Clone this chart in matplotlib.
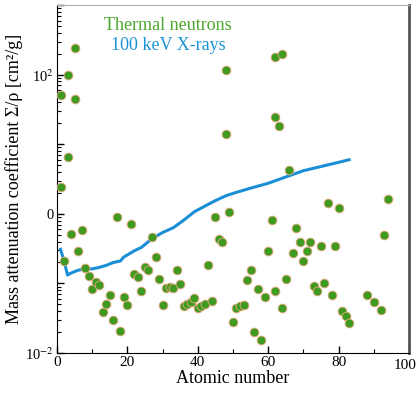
import matplotlib
matplotlib.use("Agg")
import matplotlib.pyplot as plt
from matplotlib.ticker import LogLocator, NullFormatter, FixedLocator, MultipleLocator

plt.rcParams['font.family'] = ['Liberation Serif', 'DejaVu Serif']
plt.rcParams['mathtext.fontset'] = 'stix'

# thermal neutrons: atomic number vs mass attenuation coefficient
neutron_z = [1, 1, 2, 3, 3, 4, 5, 5, 6, 7, 8, 9, 10, 11, 12, 13, 14, 15, 16, 17,
             18, 19, 20, 21, 22, 23, 24, 25, 26, 27, 28, 29, 30, 31, 32, 33, 34,
             35, 36, 37, 38, 39, 40, 41, 42, 43, 44, 45, 46, 47, 48, 48, 49, 50,
             51, 52, 53, 54, 55, 56, 57, 58, 59, 60, 61, 62, 62, 62, 63, 64, 64,
             65, 66, 67, 68, 69, 70, 71, 72, 73, 74, 75, 76, 77, 78, 79, 80, 81,
             82, 83, 88, 90, 92, 93, 94]
neutron_val = [51, 2.4, 0.21, 98, 6.6, 0.52, 240, 45, 0.29, 0.59, 0.166, 0.129,
               0.083, 0.105, 0.095, 0.039, 0.051, 0.068, 0.030, 0.89, 0.021,
               0.063, 0.049, 0.71, 0.135, 0.123, 0.078, 0.174, 0.155, 0.46, 0.24,
               0.115, 0.049, 0.085, 0.089, 0.085, 0.155, 0.098, 0.048, 0.051,
               0.055, 0.062, 0.045, 0.048, 0.051, 0.186, 0.056, 0.89, 0.44, 0.39,
               115, 14, 1.05, 0.028, 0.044, 0.047, 0.049, 0.112, 0.155, 0.020,
               0.083, 0.0155, 0.063, 0.29, 0.81, 178, 25, 0.078, 18.6, 200, 0.044,
               0.117, 4.2, 0.275, 0.62, 0.39, 0.21, 0.29, 0.40, 0.091, 0.078,
               0.34, 0.10, 1.41, 0.069, 0.34, 1.23, 0.040, 0.034, 0.027, 0.068,
               0.055, 0.042, 0.50, 1.62]

# 100 keV X-rays
xray_z = [1, 2, 3, 4, 6, 8, 10, 12, 14, 16, 18, 19, 20, 22, 24, 26, 28, 30, 33,
          36, 39, 42, 45, 48, 51, 55, 60, 65, 70, 75, 80, 83]
xray_val = [0.31, 0.21, 0.132, 0.141, 0.155, 0.162, 0.162, 0.17, 0.182, 0.20,
            0.21, 0.24, 0.257, 0.295, 0.33, 0.40, 0.47, 0.54, 0.63, 0.81, 1.07,
            1.29, 1.55, 1.82, 2.04, 2.34, 2.75, 3.39, 4.17, 4.79, 5.5, 6.0]

x_ticks = [0, 20, 40, 60, 80, 100]

fig = plt.figure(figsize=(4.16, 3.94), dpi=100)
ax = fig.add_axes([0.137, 0.104, 0.846, 0.883])

ax.plot(xray_z, xray_val, color='#1b8fd6', lw=2.2, zorder=2)
ax.scatter(neutron_z, neutron_val, s=40, color='#3f9a22', edgecolors='#e8a882',
           linewidths=0.6, zorder=3)

ax.set_yscale('log')
ax.set_xlim(0, 100)
ax.set_ylim(1e-2, 1e3)

ax.set_xticks(x_ticks)
# last label drawn by hand, a little left, so it is not cut by the edge
ax.set_xticklabels([str(t) for t in x_ticks[:-1]] + [''])
ax.annotate(str(x_ticks[-1]), xy=(x_ticks[-1], 0), xycoords=('data', 'axes fraction'),
            xytext=(-3, -4), textcoords='offset points', ha='center', va='top',
            fontsize=11)
ax.xaxis.set_minor_locator(MultipleLocator(10))
ax.yaxis.set_major_locator(FixedLocator([1e-2, 1e-1, 1, 10, 100, 1000]))
ax.set_yticklabels([r'10$^{-2}$', '', '0', '', r'10$^{2}$', ''])
ax.yaxis.set_minor_locator(LogLocator(base=10, subs=range(2, 10)))
ax.yaxis.set_minor_formatter(NullFormatter())

ax.tick_params(which='both', direction='in', top=False, right=False,
               labelsize=11, color='black')
ax.tick_params(which='major', length=5, width=1)
ax.tick_params(which='minor', length=3, width=0.8)
ax.tick_params(axis='x', pad=2)
ax.tick_params(axis='y', labelsize=10.5, pad=2)

ax.spines['top'].set_color('#b0b0b0')
ax.spines['right'].set_color('#555555')
ax.spines['right'].set_linewidth(2)

ax.set_xlabel('Atomic number', fontsize=13, labelpad=1)
ax.set_ylabel('Mass attenuation coefficient Σ/ρ [cm²/g]', fontsize=13, labelpad=2)

ax.text(31.5, 0.94, 'Thermal neutrons', transform=ax.get_xaxis_transform(),
        ha='center', va='center', fontsize=13, color='#4aa82c')
ax.text(31.5, 0.885, '100 keV X-rays', transform=ax.get_xaxis_transform(),
        ha='center', va='center', fontsize=13, color='#1b93d6')

fig.savefig('out.png', dpi=100)
